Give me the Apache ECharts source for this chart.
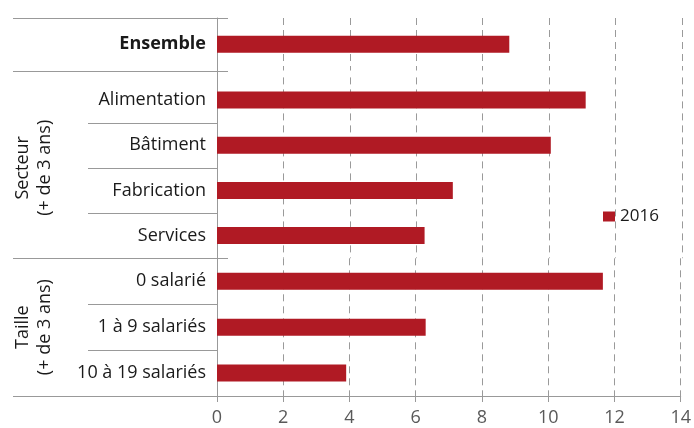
<!DOCTYPE html>
<html>
<head>
<meta charset="utf-8">
<script src="https://cdn.jsdelivr.net/npm/echarts@6/dist/echarts.min.js"></script>
<style>
html,body{margin:0;padding:0;background:#fff;}
#chart{width:694px;height:428px;}
</style>
</head>
<body>
<div id="chart"></div>
<script>
// ---- data ----
var seriesName = '2016';
var ensembleCats = ['Ensemble'];
var ensembleVals = [8.8];
var secteurCats = ['Alimentation', 'Bâtiment', 'Fabrication', 'Services'];
var secteurVals = [11.1, 10.05, 7.1, 6.25];
var tailleCats = ['0 salarié', '1 à 9 salariés', '10 à 19 salariés'];
var tailleVals = [11.65, 6.3, 3.9];
var secteurName = 'Secteur\n(+ de 3 ans)';
var tailleName = 'Taille\n(+ de 3 ans)';
var xTicks = [0, 2, 4, 6, 8, 10, 12, 14];

// ---- layout ----
var FONT = '"Open Sans", sans-serif';
var RED = '#B01A24';
var LINE = '#999999';
var AXIS_X = 217;
var RIGHT = 12;
var grids = [
  {top: 18, height: 52.5, n: ensembleCats.length},
  {top: 77.4, height: 180.8, n: secteurCats.length},
  {top: 258.3, height: 137.7, n: tailleCats.length}
];

var chart = echarts.init(document.getElementById('chart'), null, {renderer: 'canvas'});

function xAxisFor(i, showLabels) {
  return {
    gridIndex: i, type: 'value', min: xTicks[0], max: xTicks[xTicks.length - 1], interval: 2,
    axisLine: {show: showLabels, lineStyle: {color: LINE, width: 1}},
    axisTick: {show: showLabels, length: 6, lineStyle: {color: LINE}},
    axisLabel: {show: showLabels, fontFamily: FONT, fontSize: 18, color: '#595959', margin: 13},
    splitLine: {show: true, lineStyle: {color: '#9a9a9a', type: [7, 5], width: 1}}
  };
}
function yAxisFor(i, cats, name, bold) {
  var ax = {
    gridIndex: i, type: 'category', inverse: true, data: cats,
    axisLine: {show: true, lineStyle: {color: LINE, width: 1}},
    axisTick: {show: false},
    axisLabel: {fontFamily: FONT, fontSize: 18, color: '#1a1a1a', margin: 11, fontWeight: bold ? 'bold' : 'normal'},
    splitLine: {show: false}
  };
  if (name) {
    ax.name = name;
    ax.nameLocation = 'middle';
    ax.nameRotate = 90;
    ax.nameGap = 161;
    ax.nameTextStyle = {fontFamily: FONT, fontSize: 18, color: '#1a1a1a', lineHeight: 22, align: 'center'};
  }
  return ax;
}

// decorative separator lines derived from the grid layout
var graphics = [];
function hline(y, x1, x2) {
  var yy = Math.round(y) + 0.5;
  graphics.push({type: 'line', shape: {x1: x1, y1: yy, x2: x2, y2: yy}, style: {stroke: LINE, lineWidth: 1}, silent: true});
}
// group separators
hline(grids[0].top, 13, 228);
hline(grids[0].top + grids[0].height, 13, 228);
hline(grids[2].top, 13, 228);
hline(grids[2].top + grids[2].height, 13, AXIS_X);
// inner separators
[1, 2].forEach(function (gi) {
  var g = grids[gi], band = g.height / g.n;
  for (var k = 1; k < g.n; k++) hline(g.top + band * k, 88, AXIS_X);
});
// vertical axis filler between grid 0 and grid 1
graphics.push({type: 'line', shape: {x1: AXIS_X + 0.5, y1: grids[0].top + grids[0].height, x2: AXIS_X + 0.5, y2: grids[1].top},
  style: {stroke: LINE, lineWidth: 1}, silent: true});

function barSeries(i, vals) {
  return {
    name: seriesName, type: 'bar', xAxisIndex: i, yAxisIndex: i, data: vals,
    barWidth: 17, itemStyle: {color: RED}, silent: true
  };
}

var option = {
  animation: false,
  backgroundColor: '#ffffff',
  grid: grids.map(function (g) {
    return {left: AXIS_X, right: RIGHT, top: g.top, height: g.height, containLabel: false};
  }),
  xAxis: [xAxisFor(0, false), xAxisFor(1, false), xAxisFor(2, true)],
  yAxis: [
    yAxisFor(0, ensembleCats, null, true),
    yAxisFor(1, secteurCats, secteurName, false),
    yAxisFor(2, tailleCats, tailleName, false)
  ],
  legend: {
    data: [seriesName], left: 603, top: 208, icon: 'rect', itemWidth: 12, itemHeight: 10, itemGap: 5,
    textStyle: {fontFamily: FONT, fontSize: 17, color: '#1a1a1a'},
    padding: 0, selectedMode: false
  },
  series: [barSeries(0, ensembleVals), barSeries(1, secteurVals), barSeries(2, tailleVals)],
  graphic: graphics
};
chart.setOption(option);
</script>
</body>
</html>
